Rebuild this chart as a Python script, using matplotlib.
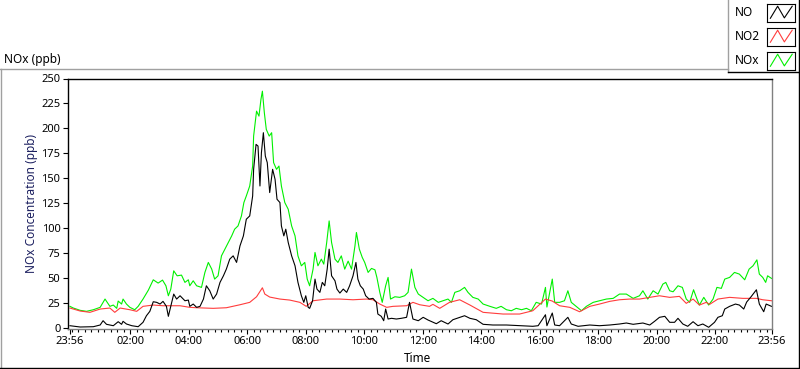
import matplotlib

matplotlib.use("Agg")
import matplotlib.pyplot as plt  # noqa: E402
import numpy as np  # noqa: E402
from matplotlib.lines import Line2D  # noqa: E402

plt.rcParams["font.family"] = ["Noto Sans", "DejaVu Sans"]

W, H = 800, 369

# elapsed minutes since 23:56 and concentrations (ppb)
NOX_T = [0, 7, 21, 34, 48, 62, 72, 82, 89, 96, 99, 106, 109, 116, 123, 133, 140, 150, 161, 171,
         181, 190, 197, 202, 207, 213, 220, 229, 236, 243, 246, 253, 260, 270, 277, 284, 291, 297,
         304, 311, 318, 325, 332, 338, 345, 352, 357, 362, 369, 375, 377, 383, 388, 392, 395, 399,
         403, 409, 414, 418, 424, 429, 434, 441, 448, 455, 462, 468, 475, 482, 487, 492, 499, 503,
         509, 516, 521, 527, 532, 537, 544, 550, 557, 564, 571, 578, 585, 588, 594, 600, 605, 612,
         619, 626, 630, 636, 641, 648, 653, 658, 667, 677, 687, 694, 701, 708, 715, 725, 735, 745,
         756, 766, 776, 783, 790, 800, 810, 817, 827, 838, 848, 862, 875, 885, 896, 906, 916, 927,
         937, 947, 957, 968, 976, 979, 990, 995, 1005, 1015, 1022, 1029, 1039, 1050, 1060, 1074,
         1087, 1101, 1115, 1128, 1142, 1156, 1169, 1176, 1186, 1197, 1207, 1217, 1223, 1231, 1238,
         1248, 1257, 1265, 1272, 1280, 1287, 1292, 1301, 1311, 1320, 1328, 1337, 1344, 1354, 1364,
         1374, 1385, 1394, 1402, 1410, 1415, 1422, 1428, 1432, 1440]
NOX_V = [21.7, 20, 17.7, 16.7, 18.3, 20.7, 29, 21.7, 23, 19.7, 27, 24, 29, 24, 20.7, 18.3, 21.7, 29, 38, 48.3,
         45, 48, 42.3, 32.3, 39, 57.3, 52.3, 53, 45.7, 48.3, 42.3, 47.3, 42.3, 40.7, 55.7, 65.7, 59, 49,
         52.3, 72.3, 79, 85.7, 92.3, 99, 102.3, 112.3, 125.7, 132.3, 142.3, 162.3, 192.3, 217.3, 212.3, 229, 237.3, 215.7,
         199, 192.3, 195.7, 165.7, 159, 162.3, 142.3, 125.7, 119, 102.3, 92.3, 72.3, 62.3, 65.7, 49, 42.3, 59, 75.7,
         62.3, 69, 64, 85.7, 107.3, 85.7, 69, 65.7, 72.3, 59, 67, 59, 82.3, 95.7, 79, 70.7, 65.7, 55.7,
         59.7, 58.3, 50.7, 35.7, 25.7, 42.3, 50.7, 29, 31.3, 30.7, 32.3, 35.7, 59, 40.7, 34, 30.7, 27.3, 29.7,
         25.7, 27.3, 29, 25.7, 35.7, 37.3, 40.7, 35.7, 30.7, 29, 24, 21.7, 19.7, 21.7, 18.3, 17.3, 19.7, 18.3,
         19.7, 17.3, 25.7, 24, 40.7, 21, 49, 25.7, 25.7, 27.3, 37.3, 25.7, 21.7, 17.3, 21.7, 25.7,
         27.3, 29, 29.7, 34, 34, 29.7, 32.3, 37.3, 29, 37.3, 34, 44, 45.7, 37.3, 36.3,
         42.3, 40.7, 29, 25.7, 38.3, 29, 23, 30.7, 23, 29, 40.7, 39.7, 49, 50.7, 55.7,
         54, 48.3, 59, 62.3, 68.3, 54, 50.7, 45.7, 52.3, 49.7]

NO2_T = [0, 21, 41, 62, 82, 92, 103, 123, 137, 150, 171, 191, 212, 226, 246, 260, 294, 321, 349, 369,
         383, 395, 400, 410, 431, 451, 472, 485, 499, 527, 554, 581, 609, 622, 636, 650, 663, 691, 704,
         718, 738, 745, 759, 779, 800, 821, 848, 889, 923, 950, 976, 990, 1005, 1026, 1046, 1067, 1087,
         1108, 1128, 1149, 1169, 1190, 1210, 1231, 1251, 1265, 1279, 1292, 1306, 1313, 1330, 1354,
         1381, 1409, 1422, 1440]
NO2_V = [20, 17, 15.7, 19, 20, 15.7, 20, 18.3, 16.7, 21.7, 23, 22.3, 22.3, 22.3, 20.7, 20.3, 19.7, 20.3, 23.3, 25.7,
         31.3, 40.3, 34, 31, 29, 28, 25.7, 21.7, 27.3, 29, 29, 28.3, 29, 28.3, 24, 20.7, 21.7, 22.3, 25.7,
         23.3, 21.7, 23.7, 19.7, 25.7, 28.3, 23, 15.7, 14, 14, 17.3, 29, 27, 22.3, 20.7, 16.3, 21.7, 24,
         26.7, 28.3, 29, 29, 30.7, 32.3, 30.7, 31.7, 24.7, 29, 23, 25.7, 23.7, 29, 30.7,
         29.7, 29.7, 28.3, 27.3]

NO_T = [0, 21, 48, 62, 68, 75, 89, 99, 106, 109, 116, 127, 140, 150, 157, 164, 171, 178, 185, 191,
        198, 202, 207, 213, 219, 226, 236, 243, 246, 253, 260, 267, 274, 280, 287, 294, 301, 308, 315,
        321, 328, 335, 342, 349, 356, 362, 369, 375, 377, 382, 386, 390, 393, 397, 401, 405, 410, 416,
        421, 425, 431, 434, 439, 443, 448, 455, 462, 468, 475, 480, 484, 489, 492, 498, 503, 507, 513,
        518, 523, 528, 532, 537, 544, 548, 554, 561, 568, 574, 581, 587, 591, 596, 602, 607, 614, 622,
        629, 632, 639, 644, 648, 653, 660, 670, 680, 691, 697, 704, 715, 725, 735, 752, 762, 776, 786,
        800, 810, 821, 834, 848, 868, 896, 923, 950, 961, 976, 979, 990, 995, 1005, 1022, 1029, 1043,
        1067, 1087, 1108, 1128, 1142, 1156, 1176, 1190, 1200, 1210, 1221, 1231, 1241, 1248, 1258, 1268,
        1279, 1289, 1299, 1311, 1323, 1330, 1339, 1344, 1354, 1366, 1374, 1383, 1389, 1398, 1409, 1415,
        1424, 1429, 1440]
NO_V = [2.3, 1, 1.3, 3, 7.3, 3.7, 2.3, 6.3, 3.7, 6.7, 4, 2.3, 1.3, 5.7, 12.3, 16.7, 26.3, 25.7, 24, 26.7,
        21.7, 11.7, 21.7, 34, 29, 32.3, 27.3, 28, 21.7, 24, 20.7, 21.7, 29, 42.3, 37.3, 29, 34, 45.7, 52.3,
        59, 69, 72.3, 65.7, 82.3, 92.3, 109, 112.3, 132.3, 159, 184, 182.3, 142.3, 175.7, 195.7, 172.3, 165.7, 135.7, 159,
        149, 129, 125.7, 102.3, 92.3, 99, 85.7, 72.3, 62.3, 45.7, 32.3, 25.7, 32.3, 20.7, 19.7, 27.3, 49, 39, 35.7,
        45.7, 42.3, 59, 79, 52.3, 47.3, 39, 35, 39, 35.7, 42.3, 52.3, 65.7, 49, 42.3, 39, 32.3, 29, 29.7,
        25.7, 14, 11.7, 7.3, 19, 9, 9.7, 9, 9.7, 10.7, 25.7, 9, 7.3, 10.7, 8, 4.3, 7.3, 4, 8.3,
        10.7, 12.3, 9.7, 8.3, 3.7, 3, 3, 2.3, 1.7, 2.3, 13.3, 2.3, 15, 3, 2.3, 10.7, 4, 1.7,
        3, 2.3, 3, 4, 5, 3.7, 5, 3, 6.7, 10.7, 11.7, 5.7, 5.7, 9.7, 4, 1.7,
        6.3, 2.3, 4, 0.7, 5.7, 10.7, 12.3, 19, 21.7, 24, 23, 19, 26, 31.3, 38.3, 24,
        16.3, 24, 21.7]

SERIES = ["NO", "NO2", "NOx"]
COLORS = {"NO": "#000000", "NO2": "#ff3c3c", "NOx": "#00f000"}

MAJOR_T = [0, 124, 244, 364, 484, 604, 724, 844, 964, 1084, 1204, 1324, 1440]
MAJOR_LBL = ["23:56", "02:00", "04:00", "06:00", "08:00", "10:00", "12:00",
             "14:00", "16:00", "18:00", "20:00", "22:00", "23:56"]
Y_TICKS = list(range(0, 251, 25))


def fx(px):
    return px / W


def fy(py):
    return 1 - py / H


fig = plt.figure(figsize=(W / 100, H / 100), dpi=100)
ax = fig.add_axes([fx(68), fy(328.5), (772 - 68) / W, 250 / H])

ax.plot(NOX_T, NOX_V, color=COLORS["NOx"], lw=0.8)
ax.plot(NO2_T, NO2_V, color=COLORS["NO2"], lw=0.8)
ax.plot(NO_T, NO_V, color=COLORS["NO"], lw=0.8)

ax.set_xlim(-4, 1441)
ax.set_ylim(-0.5, 250)
ax.set_xticks(MAJOR_T)
ax.set_xticklabels(MAJOR_LBL)
minor = [m for m in np.arange(4, 1440, 120 / 9) if min(abs(m - t) for t in MAJOR_T) > 1]
ax.set_xticks(minor, minor=True)
ax.set_yticks(Y_TICKS)
ax.tick_params(axis="both", which="major", length=3.5, width=0.8, labelsize=8, color="#000000", pad=2)
ax.tick_params(axis="x", which="minor", length=2.2, width=0.8, color="#000000")
for s in ("top", "left"):
    ax.spines[s].set_color("#000000")
for s in ("bottom", "right"):
    ax.spines[s].set_color("#808080")
for s in ax.spines.values():
    s.set_linewidth(1.0)

fig.text(fx(32), fy(203.5), "NOx Concentration (ppb)", rotation=90, ha="center", va="center",
         fontsize=8.5, color="#1c2060")
fig.text(fx(417), fy(358), "Time", ha="center", va="center", fontsize=8.5)
fig.text(fx(4), fy(60), "NOx (ppb)", ha="left", va="center", fontsize=8.5)

# outer panel frame and legend box
frame = [((0.5, 0.5), (69, 368), "#a0a0a0"), ((0, 728), (69, 69), "#a0a0a0"),
         ((0, 799), (368, 368), "#000000"), ((798.5, 798.5), (72, 368), "#000000"),
         ((728, 728), (0, 72), "#a0a0a0"), ((728, 799), (71.5, 71.5), "#000000"),
         ((798.5, 798.5), (0, 72), "#000000")]
for xs, ys, c in frame:
    fig.add_artist(Line2D([fx(v) for v in xs], [fy(v) for v in ys], color=c, lw=1.0))

for i, name in enumerate(SERIES):
    cy = 12.5 + 24 * i
    fig.text(fx(735), fy(cy), name, ha="left", va="center", fontsize=8.5)
    iax = fig.add_axes([fx(767), fy(cy + 9), 28 / W, 18 / H])
    iax.plot([0.12, 0.38, 0.62, 0.9], [0.18, 0.85, 0.2, 0.85], color=COLORS[name], lw=0.8)
    iax.set_xlim(0, 1)
    iax.set_ylim(0, 1)
    iax.set_xticks([])
    iax.set_yticks([])
    for s in iax.spines.values():
        s.set_color("#000000")
        s.set_linewidth(0.8)

fig.savefig("out.png", dpi=100)
